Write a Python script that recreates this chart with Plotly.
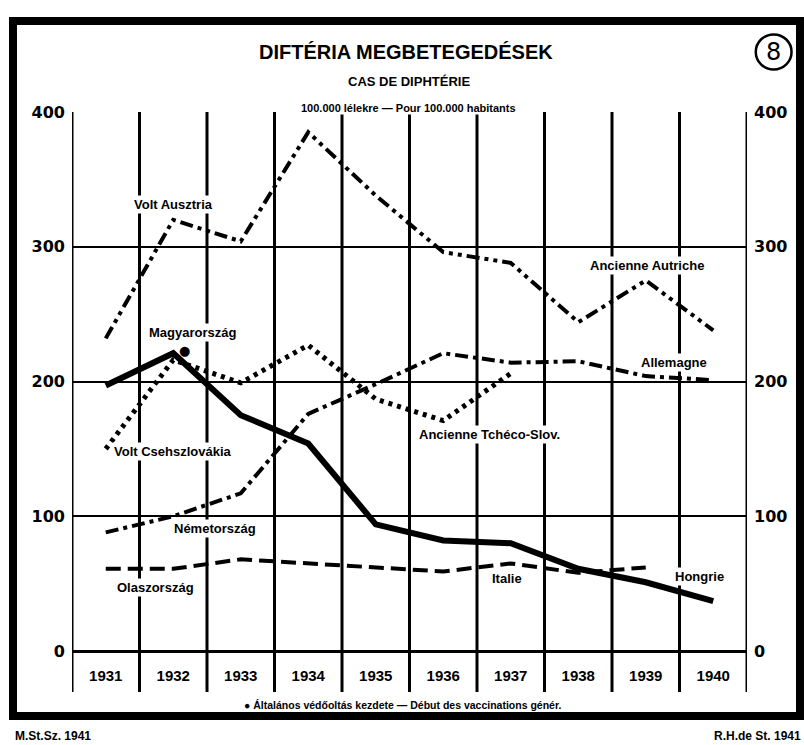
import plotly.graph_objects as go

# ---- data ----
years = [1931, 1932, 1933, 1934, 1935, 1936, 1937, 1938, 1939, 1940]
year_labels = ["1931", "1932", "1933", "1934", "1935", "1936", "1937", "1938", "1939", "1940"]
hungary = [197, 221, 175, 154, 94, 82, 80, 61, 51, 37]
austria = [232, 320, 304, 385, 338, 296, 288, 244, 275, 238]
czech_years = [1931, 1932, 1933, 1934, 1935, 1936, 1937]
czech = [150, 216, 199, 227, 187, 171, 206]
germany = [88, 100, 117, 176, 198, 221, 214, 215, 204, 201]
italy_years = [1931, 1932, 1933, 1934, 1935, 1936, 1937, 1938, 1939]
italy = [61, 61, 68, 65, 62, 59, 65, 58, 62]
y_ticks = [0, 100, 200, 300, 400]
vacc_year = 1932
vacc_value = 223

COND = "Liberation Sans, Arial, sans-serif"
ROUND = "DejaVu Sans, Verdana, sans-serif"

fig = go.Figure()

fig.add_trace(go.Scatter(x=years, y=austria, mode="lines", name="Volt Ausztria",
                         line=dict(color="black", width=4, dash="13px,5px,4px,5px,4px,5px")))
fig.add_trace(go.Scatter(x=years, y=germany, mode="lines", name="Németország",
                         line=dict(color="black", width=4, dash="13px,5px,4px,5px")))
fig.add_trace(go.Scatter(x=czech_years, y=czech, mode="lines", name="Volt Csehszlovákia",
                         line=dict(color="black", width=5, dash="4px,5px")))
fig.add_trace(go.Scatter(x=italy_years, y=italy, mode="lines", name="Olaszország",
                         line=dict(color="black", width=4, dash="15px,7px")))
fig.add_trace(go.Scatter(x=years, y=hungary, mode="lines", name="Magyarország",
                         line=dict(color="black", width=6)))
# invisible trace to carry the right axis
fig.add_trace(go.Scatter(x=years, y=hungary, mode="lines", yaxis="y2", showlegend=False,
                         hoverinfo="skip", line=dict(color="rgba(0,0,0,0)", width=0)))

# vertical column lines (year boundaries), extended into the year band
bounds = [y - 0.5 for y in years] + [years[-1] + 0.5]
for b in bounds:
    fig.add_shape(type="line", xref="x", yref="paper", x0=b, x1=b, y0=-0.076, y1=1,
                  line=dict(color="black", width=3), layer="below")

# outer frame
fig.add_shape(type="rect", xref="paper", yref="paper", x0=-0.0874, x1=1.0785,
              y0=-0.1206, y1=1.1688, line=dict(color="black", width=8))
# circled number
fig.add_shape(type="circle", xref="paper", yref="paper", x0=1.013, x1=1.066,
              y0=1.079, y1=1.144, line=dict(color="black", width=2.5))

ann = []
def lab(text, x, y, size=13, **kw):
    ann.append(dict(text=text, x=x, y=y, xref="x", yref="y", showarrow=False,
                    font=dict(family=COND, size=size, color="black", weight="bold"),
                    bgcolor="white", borderpad=1, **kw))

lab("Volt Ausztria", 1932.0, 331)
lab("Magyarország", 1932.28, 236)
lab("Volt Csehszlovákia", 1932.0, 148)
lab("Németország", 1932.62, 91)
lab("Olaszország", 1931.73, 47)
lab("Ancienne Autriche", 1939.02, 286)
lab("Allemagne", 1939.42, 214)
lab("Ancienne Tchéco-Slov.", 1936.69, 161)
lab("Italie", 1936.95, 54)
lab("Hongrie", 1939.80, 55)

# vaccination start marker
ann.append(dict(text="●", x=vacc_year, y=vacc_value, xref="x", yref="y", showarrow=False,
                xshift=11, font=dict(family=ROUND, size=13, color="black")))

def ptxt(text, x, y, size, family=COND, xanchor="center", weight="bold", bg=None):
    d = dict(text=text, x=x, y=y, xref="paper", yref="paper", showarrow=False,
             xanchor=xanchor, yanchor="middle",
             font=dict(family=family, size=size, color="black", weight=weight))
    if bg:
        d["bgcolor"] = bg
        d["borderpad"] = 0
    ann.append(d)

ptxt("DIFTÉRIA MEGBETEGEDÉSEK", 0.495, 1.111, 20)
ptxt("CAS DE DIPHTÉRIE", 0.499, 1.056, 13)
ptxt("100.000 lélekre — Pour 100.000 habitants", 0.498, 1.008, 11, bg="white")
ptxt("8", 1.0395, 1.111, 24, family=ROUND, weight="normal")
ptxt("● Általános védőoltás kezdete — Début des vaccinations génér.", 0.489, -0.1002, 10.5)
ptxt("M.St.Sz. 1941", -0.0874, -0.158, 12, xanchor="left")
ptxt("R.H.de St. 1941", 1.083, -0.158, 12, xanchor="right")

fig.update_layout(
    width=804, height=745,
    margin=dict(l=72, r=57, t=112, b=94),
    paper_bgcolor="white", plot_bgcolor="white",
    showlegend=False,
    annotations=ann,
    xaxis=dict(range=[years[0] - 0.5, years[-1] + 0.5], tickvals=years, ticktext=year_labels,
               showgrid=False, zeroline=False, showline=False, ticks="",
               ticklabelstandoff=14,
               tickfont=dict(family=COND, size=15, color="black", weight="bold")),
    yaxis=dict(range=[0, 400], tickvals=y_ticks, ticktext=[str(v) for v in y_ticks],
               showgrid=True, gridcolor="black", gridwidth=2,
               zeroline=True, zerolinecolor="black", zerolinewidth=3,
               showline=False, ticks="", ticklabelstandoff=6,
               tickfont=dict(family=ROUND, size=16, color="black", weight="bold")),
    yaxis2=dict(range=[0, 400], tickvals=y_ticks, ticktext=[str(v) for v in y_ticks],
                overlaying="y", side="right", showgrid=False, zeroline=False,
                showline=False, ticks="", ticklabelstandoff=6,
                tickfont=dict(family=ROUND, size=16, color="black", weight="bold")),
)

fig.write_html("out.html", config={"displayModeBar": False},
               post_script="document.body.style.margin='0';document.body.style.padding='0';")
